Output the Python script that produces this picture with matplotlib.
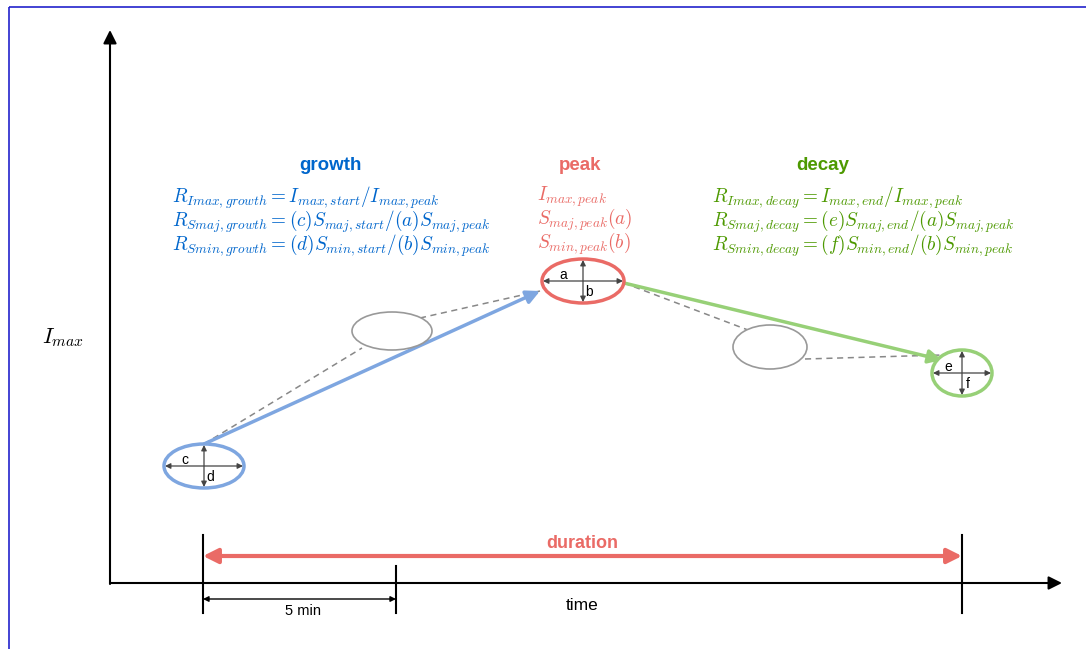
import matplotlib
matplotlib.use('Agg')
import matplotlib.pyplot as plt
from matplotlib.patches import Ellipse, FancyArrowPatch, Rectangle

plt.rcParams['mathtext.fontset'] = 'cm'
plt.rcParams['font.family'] = ['Liberation Sans', 'DejaVu Sans']

BLUE = '#7EA6E0'
RED = '#EA6B66'
GREEN = '#97D077'
GRAY = '#999999'
DARK = '#444444'

# ellipse stages: name, centre x, centre y, width, height, colour
stage_names = ['start', 'mid_growth', 'peak', 'mid_decay', 'end']
stage_x = [204, 392, 583, 770, 962]
stage_y = [466, 331, 281, 347, 373]
stage_w = [80, 80, 82, 74, 60]
stage_h = [44, 38, 44, 44, 46]
stage_col = [BLUE, GRAY, RED, GRAY, GREEN]
stage_lw = [2.5, 1.2, 2.5, 1.2, 2.5]
axis_letters = {'start': ('c', 'd'), 'peak': ('a', 'b'), 'end': ('e', 'f')}

# time markers on the x axis
tick_x = [203, 396, 962]
tick_top = [535, 566, 535]

headers = ['growth', 'peak', 'decay']
header_x = [330, 580, 823]
header_col = ['#0066CC', RED, '#4D9900']

growth_lines = [r'$R_{Imax,growth} = I_{max,start}/I_{max,peak}$',
                r'$R_{Smaj,growth} = (c)S_{maj,start}/(a)S_{maj,peak}$',
                r'$R_{Smin,growth} = (d)S_{min,start}/(b)S_{min,peak}$']
peak_lines = [r'$I_{max,peak}$',
              r'$S_{maj,peak}(a)$',
              r'$S_{min,peak}(b)$']
decay_lines = [r'$R_{Imax,decay} = I_{max,end}/I_{max,peak}$',
               r'$R_{Smaj,decay} = (e)S_{maj,end}/(a)S_{maj,peak}$',
               r'$R_{Smin,decay} = (f)S_{min,end}/(b)S_{min,peak}$']
formula_x = [172, 537, 712]
formula_top = 185

fig = plt.figure(figsize=(10.86, 6.49), dpi=100)
ax = fig.add_axes([0, 0, 1, 1])
ax.set_xlim(0, 1086)
ax.set_ylim(649, 0)
ax.axis('off')

# frame
ax.add_patch(Rectangle((9, 7), 1200, 800, fill=False, ec='#2222CC', lw=1.2))


def arrow(p0, p1, style='-|>', color='black', lw=1.0, ms=12, ls='-', z=2):
    ax.add_patch(FancyArrowPatch(p0, p1, arrowstyle=style, color=color, lw=lw,
                                 mutation_scale=ms, linestyle=ls,
                                 shrinkA=0, shrinkB=0, zorder=z))


# axes of the sketch
arrow((110, 584), (110, 30), ms=20, lw=1.5)
arrow((110, 583), (1062, 583), ms=20, lw=1.5)
for tx, tt in zip(tick_x, tick_top):
    ax.plot([tx, tx], [tt, 613], color='black', lw=1.5)

arrow((203, 599), (396, 599), style='<|-|>', lw=1.0, ms=8)
ax.text(303, 611, '5 min', ha='center', va='center', fontsize=10.5)
ax.text(582, 606, 'time', ha='center', va='center', fontsize=12.5)
ax.text(63, 338, r'$I_{max}$', ha='center', va='center', fontsize=16)

arrow((203, 556), (962, 556), style='<|-|>', color=RED, lw=3, ms=22)
ax.text(582, 543, 'duration', ha='center', va='center', fontsize=13,
        fontweight='bold', color=RED)

# dashed guide path through the intermediate stages
dash_pairs = [((204, 444), (362, 348)), ((420, 318), (540, 291)),
              ((624, 283), (748, 330)), ((805, 359), (942, 355))]
for p0, p1 in dash_pairs:
    ax.plot([p0[0], p1[0]], [p0[1], p1[1]], color='#888888', lw=1.1,
            ls=(0, (4, 3)))

for name, x, y, w, h, c, lw in zip(stage_names, stage_x, stage_y, stage_w,
                                   stage_h, stage_col, stage_lw):
    ax.add_patch(Ellipse((x, y), w, h, fill=True, fc='white', ec=c, lw=lw,
                         zorder=3))
    if name in axis_letters:
        hl, vl = axis_letters[name]
        arrow((x - w / 2 + 1, y), (x + w / 2 - 1, y), style='<|-|>',
              color=DARK, lw=0.9, ms=8, z=4)
        arrow((x, y - h / 2 + 1), (x, y + h / 2 - 1), style='<|-|>',
              color=DARK, lw=0.9, ms=8, z=4)
        ax.text(x - w / 4 + 1, y - 6, hl, ha='center', va='center',
                fontsize=10, zorder=5)
        ax.text(x + 6, y + 11, vl, ha='center', va='center',
                fontsize=10, zorder=5)

# trajectory arrows
arrow((204, 444), (540, 291), color=BLUE, lw=2.5, ms=20, z=2.5)
arrow((624, 283), (942, 360), color=GREEN, lw=2.5, ms=20, z=2.5)

for hd, hx, hc in zip(headers, header_x, header_col):
    ax.text(hx, 165, hd, ha='center', va='center', fontsize=13.5,
            fontweight='bold', color=hc)

for lines, fx, fc in zip([growth_lines, peak_lines, decay_lines], formula_x,
                         header_col):
    ax.text(fx, formula_top, '\n'.join(lines), ha='left', va='top',
            fontsize=13.8, color=fc, linespacing=0.86)

fig.savefig('out.png', dpi=100)
